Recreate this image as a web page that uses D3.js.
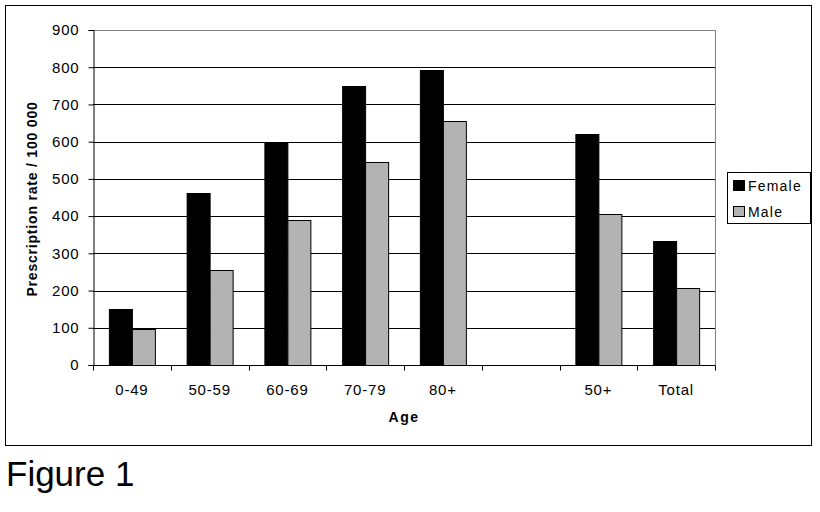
<!DOCTYPE html>
<html>
<head>
<meta charset="utf-8">
<script src="https://cdn.jsdelivr.net/npm/d3@7"></script>
<style>
  body { margin: 0; background: #fff; }
  text { font-family: "Liberation Sans", Arial, sans-serif; }
</style>
</head>
<body>
<svg id="chart" width="820" height="512"></svg>
<script>
const categories = ["0-49", "50-59", "60-69", "70-79", "80+", "", "50+", "Total"];
const seriesNames = ["Female", "Male"];
const female = [150, 462, 598, 750, 792, 0, 620, 333];
const male = [97, 254, 389, 545, 655, 0, 405, 206];
const yTicks = [0, 100, 200, 300, 400, 500, 600, 700, 800, 900];
const colors = ["#000000", "#b3b3b3"];

const svg = d3.select("#chart");
const plot = { left: 93, top: 30, right: 715, bottom: 365 };

// outer frame
svg.append("rect").attr("x", 5.5).attr("y", 5.5).attr("width", 806).attr("height", 440)
  .attr("fill", "#fff").attr("stroke", "#000").attr("stroke-width", 1);

const x = d3.scaleBand().domain(d3.range(categories.length)).range([plot.left, plot.right]).padding(0);
const y = d3.scaleLinear().domain([0, 900]).range([plot.bottom, plot.top]);
const groupW = 46;
const xs = d3.scaleBand().domain(seriesNames).range([0, groupW]).padding(0);

// gridlines
svg.append("g").selectAll("line").data(yTicks.filter(t => t > 0 && t < 900)).join("line")
  .attr("x1", plot.left).attr("x2", plot.right)
  .attr("y1", d => Math.round(y(d)) + 0.5).attr("y2", d => Math.round(y(d)) + 0.5)
  .attr("stroke", "#000").attr("stroke-width", 1);

// plot border (top/right gray)
svg.append("path")
  .attr("d", `M${plot.left},${plot.top + 0.5}H${plot.right + 0.5}V${plot.bottom}`)
  .attr("fill", "none").attr("stroke", "#808080").attr("stroke-width", 1);

// bars
const data = categories.map((c, i) => ({ i, vals: [female[i], male[i]] }));
const groups = svg.append("g").selectAll("g").data(data).join("g")
  .attr("transform", d => `translate(${x(d.i) + (x.bandwidth() - groupW) / 2},0)`);
groups.selectAll("rect").data(d => d.vals.map((v, k) => ({ v, k })).filter(e => e.v > 0)).join("rect")
  .attr("x", e => Math.round(xs(seriesNames[e.k])) + 0.5)
  .attr("width", xs.bandwidth())
  .attr("y", e => Math.round(y(e.v)) + 0.5)
  .attr("height", e => Math.round(y(0)) - Math.round(y(e.v)))
  .attr("fill", e => colors[e.k])
  .attr("stroke", "#000").attr("stroke-width", 1);

// y axis
const yAxis = d3.axisLeft(y).tickValues(yTicks).tickSize(5).tickPadding(9).tickFormat(d3.format("d"));
const yg = svg.append("g").attr("transform", `translate(${plot.left + 0.5},0)`).call(yAxis);
yg.select(".domain").attr("stroke", "#000");
yg.selectAll(".tick line").attr("stroke", "#000");
yg.selectAll(".tick text").attr("font-size", 15).attr("letter-spacing", 0.8).attr("fill", "#000")
  .style("font-family", "'Liberation Sans', Arial, sans-serif");

// x axis
const xTickScale = d3.scaleLinear().domain([0, categories.length]).range([plot.left, plot.right]);
const xg = svg.append("g").attr("transform", `translate(0,${Math.round(y(0)) + 0.5})`);
xg.append("line").attr("x1", plot.left).attr("x2", plot.right + 0.5).attr("stroke", "#000");
xg.selectAll("line.t").data(d3.range(categories.length + 1)).join("line").attr("class", "t")
  .attr("x1", d => Math.round(xTickScale(d)) + 0.5).attr("x2", d => Math.round(xTickScale(d)) + 0.5)
  .attr("y1", 0).attr("y2", 5).attr("stroke", "#000");
xg.selectAll("text").data(categories).join("text")
  .attr("x", (d, i) => x(i) + x.bandwidth() / 2)
  .attr("y", 29)
  .attr("text-anchor", "middle").attr("font-size", 15).attr("letter-spacing", 0.8).attr("fill", "#000")
  .text(d => d);

// axis titles
svg.append("text").attr("x", 404).attr("y", 422).attr("text-anchor", "middle")
  .attr("font-size", 14).attr("font-weight", "bold").attr("letter-spacing", 1.5).text("Age");
svg.append("text").attr("transform", "translate(37,199) rotate(-90)").attr("text-anchor", "middle")
  .attr("font-size", 14).attr("font-weight", "bold").attr("letter-spacing", 0.8)
  .text("Prescription rate / 100 000");

// legend
const lg = svg.append("g");
lg.append("rect").attr("x", 727.5).attr("y", 172.5).attr("width", 83).attr("height", 51)
  .attr("fill", "#fff").attr("stroke", "#000");
seriesNames.forEach((s, k) => {
  const cy = 185 + k * 26;
  lg.append("rect").attr("x", 733.5).attr("y", cy - 4.5).attr("width", 11).attr("height", 10)
    .attr("fill", colors[k]).attr("stroke", "#000");
  lg.append("text").attr("x", 748).attr("y", cy + 5.5).attr("font-size", 14).attr("letter-spacing", 1.2)
    .attr("fill", "#000").text(s);
});

// figure caption
svg.append("text").attr("x", 6).attr("y", 486).attr("font-size", 35).attr("fill", "#000")
  .style("font-family", "'Liberation Sans', Arial, sans-serif").text("Figure 1");
</script>
</body>
</html>
